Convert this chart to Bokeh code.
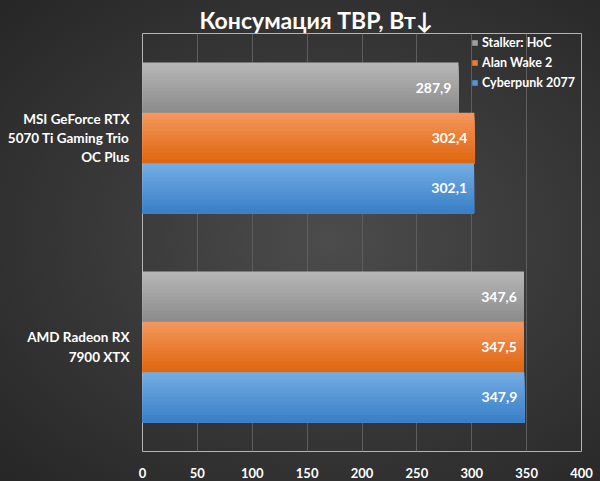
from bokeh.plotting import figure
from bokeh.models import (ColumnDataSource, Range1d, FactorRange, FixedTicker,
                          Legend, LegendItem)
from bokeh.transform import dodge
from bokeh.core.properties import value
from bokeh.embed import file_html
from bokeh.resources import INLINE

# ---- data ----
categories = ["MSI GeForce RTX\n5070 Ti Gaming Trio\nOC Plus", "AMD Radeon RX\n7900 XTX"]
series_names = ["Stalker: HoC", "Alan Wake 2", "Cyberpunk 2077"]
stalker = [287.9, 347.6]
alan_wake = [302.4, 347.5]
cyberpunk = [302.1, 347.9]
x_ticks = [0, 50, 100, 150, 200, 250, 300, 350, 400]
title_text = "Консумация TBP, Вт↓"

series_values = [stalker, alan_wake, cyberpunk]
# top / bottom gradient colours per series
grad = [((0xb6, 0xb6, 0xb6), (0x8c, 0x8c, 0x8c)),
        ((0xf4, 0x96, 0x5c), (0xdf, 0x67, 0x10)),
        ((0x72, 0xac, 0xe3), (0x3a, 0x80, 0xc8))]

FONT = "Lato"
W, H = 600, 481
FL, FR, FT, FB = 142, 581, 33, 451

p = figure(width=W, height=H, output_backend="svg", toolbar_location=None,
           x_range=Range1d(0, 400), y_range=FactorRange(factors=list(reversed(categories))),
           frame_width=FR - FL, frame_height=FB - FT,
           min_border_left=FL, min_border_right=W - FR, min_border_top=FT,
           min_border_bottom=H - FB)

p.styles = {"background-image": "radial-gradient(ellipse at 55% 50%, #4c4c4c 0%, #3a3a3a 45%, #262626 100%)"}
p.background_fill_alpha = 0
p.border_fill_alpha = 0
p.outline_line_color = "#b4b4b4"
p.outline_line_width = 1

p.title.text = title_text
p.title.align = "left"
p.title.text_color = "white"
p.title.text_font = FONT
p.title.text_font_size = "23px"
p.title.text_font_style = "bold"
p.title.offset = 57
p.title.standoff = 0

p.xgrid.ticker = FixedTicker(ticks=x_ticks)
p.xgrid.grid_line_color = "#5e5e5e"
p.xgrid.grid_line_width = 1
p.ygrid.grid_line_color = None

p.xaxis.ticker = FixedTicker(ticks=x_ticks)
p.xaxis.axis_line_color = None
p.xaxis.major_tick_line_color = None
p.xaxis.minor_tick_line_color = None
p.xaxis.major_label_text_color = "white"
p.xaxis.major_label_text_font = FONT
p.xaxis.major_label_text_font_style = "bold"
p.xaxis.major_label_text_font_size = "13px"
p.xaxis.major_label_standoff = 10

p.yaxis.axis_line_color = None
p.yaxis.major_tick_line_color = None
p.yaxis.minor_tick_line_color = None
p.yaxis.major_label_text_color = "white"
p.yaxis.major_label_text_font = FONT
p.yaxis.major_label_text_font_style = "bold"
p.yaxis.major_label_text_font_size = "13.5px"
p.yaxis.major_label_text_align = "center"
p.yaxis.major_label_standoff = 7

bar_h = 0.241
N = 14
legend_items = []
for k, (name, vals) in enumerate(zip(series_names, series_values)):
    src = ColumnDataSource(dict(cat=categories, val=vals,
                                lab=[f"{v:.1f}".replace(".", ",") for v in vals]))
    center = bar_h * (1 - k)
    bottom = center - bar_h / 2
    (r0, g0, b0), (r1, g1, b1) = grad[k]
    mid_r = None
    for i in range(N):
        t = i / (N - 1)
        c = "#%02x%02x%02x" % (round(r0 + (r1 - r0) * t), round(g0 + (g1 - g0) * t), round(b0 + (b1 - b0) * t))
        hh = bar_h * (N - i) / N
        r = p.hbar(y=dodge("cat", bottom + hh / 2, range=p.y_range), left=0, right="val",
                   height=hh, fill_color=c, line_color=None, source=src)
        if i == N // 2:
            mid_r = r
    legend_items.append(LegendItem(label=name, renderers=[mid_r]))
    p.text(x="val", y=dodge("cat", center, range=p.y_range), text="lab", source=src,
           text_align="right", text_baseline="middle", x_offset=-7,
           text_color="white", text_font=value(FONT), text_font_style="bold",
           text_font_size="14px")

legend = Legend(items=legend_items, location=(329, FB - FT - 59), orientation="vertical",
                background_fill_alpha=0, border_line_color=None,
                glyph_width=7, glyph_height=7, label_standoff=4, spacing=0,
                label_height=20, padding=2, margin=0,
                label_text_color="white", label_text_font=FONT,
                label_text_font_style="bold", label_text_font_size="12.5px")
p.add_layout(legend, "center")

open("out.html", "w").write(file_html(p, INLINE))
